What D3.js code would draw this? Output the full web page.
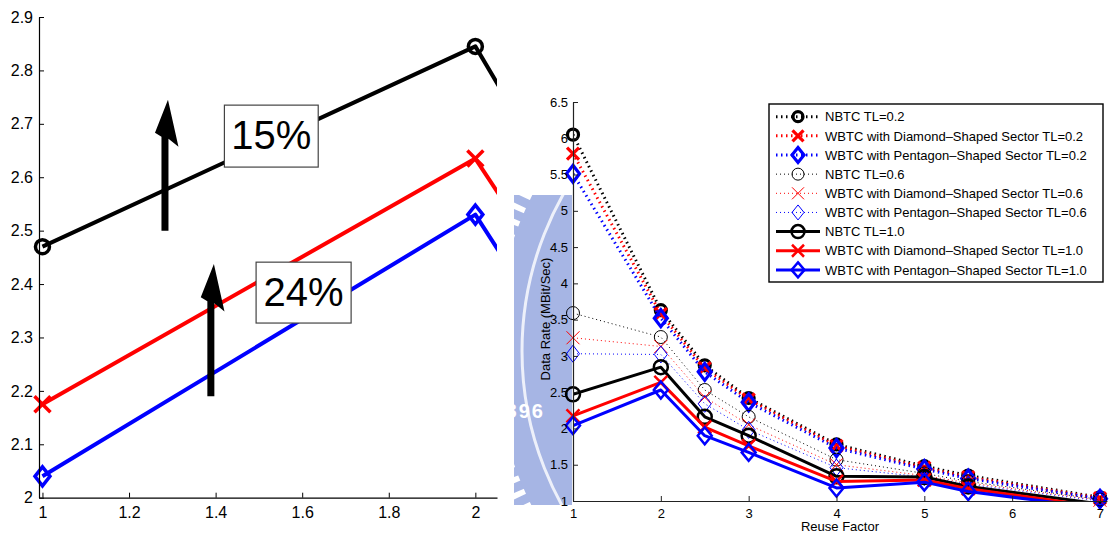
<!DOCTYPE html>
<html>
<head>
<meta charset="utf-8">
<script src="https://cdn.jsdelivr.net/npm/d3@7"></script>
<style>
  html, body { margin: 0; padding: 0; background: #fff; }
  svg { display: block; font-family: "Liberation Sans", Arial, Helvetica, sans-serif; }
</style>
</head>
<body>
<svg id="chart" width="1111" height="540"></svg>
<script>
// ---- data ----------------------------------------------------------------
const reuseFactor = [1, 2, 2.5, 3, 4, 5, 5.5, 7];

// traffic load 0.2
const nbtc02     = [6.05, 3.63, 2.87, 2.42, 1.78, 1.48, 1.35, 1.05];
const wbtcDia02  = [5.79, 3.58, 2.83, 2.40, 1.76, 1.46, 1.33, 1.04];
const wbtcPen02  = [5.51, 3.52, 2.78, 2.36, 1.73, 1.44, 1.31, 1.03];
// traffic load 0.6
const nbtc06     = [3.59, 3.26, 2.53, 2.16, 1.57, 1.38, 1.27, 1.02];
const wbtcDia06  = [3.25, 3.13, 2.43, 2.05, 1.50, 1.35, 1.25, 1.01];
const wbtcPen06  = [3.03, 3.02, 2.34, 1.98, 1.46, 1.33, 1.23, 1.00];
// traffic load 1.0
const nbtc10     = [2.47, 2.845, 2.16, 1.90, 1.34, 1.33, 1.20, 0.96];
const wbtcDia10  = [2.175, 2.635, 2.02, 1.76, 1.27, 1.29, 1.17, 0.92];
const wbtcPen10  = [2.04, 2.53, 1.90, 1.67, 1.18, 1.26, 1.13, 0.90];

const legendLabels = [
  "NBTC TL=0.2",
  "WBTC with Diamond\u2013Shaped Sector TL=0.2",
  "WBTC with Pentagon\u2013Shaped Sector TL=0.2",
  "NBTC TL=0.6",
  "WBTC with Diamond\u2013Shaped Sector TL=0.6",
  "WBTC with Pentagon\u2013Shaped Sector TL=0.6",
  "NBTC TL=1.0",
  "WBTC with Diamond\u2013Shaped Sector TL=1.0",
  "WBTC with Pentagon\u2013Shaped Sector TL=1.0"
];

const leftXTicks  = [1, 1.2, 1.4, 1.6, 1.8, 2];
const leftYTicks  = [2, 2.1, 2.2, 2.3, 2.4, 2.5, 2.6, 2.7, 2.8, 2.9];
const rightXTicks = [1, 2, 3, 4, 5, 6, 7];
const rightYTicks = [1, 1.5, 2, 2.5, 3, 3.5, 4, 4.5, 5, 5.5, 6, 6.5];
const gainLabels  = ["15%", "24%"];

// ---- series table ----------------------------------------------------------
const seriesValues = [nbtc02, wbtcDia02, wbtcPen02, nbtc06, wbtcDia06, wbtcPen06, nbtc10, wbtcDia10, wbtcPen10];
const shapes = ["circle", "x", "diamond"];
const colors = ["#000000", "#ff0000", "#0000ff"];
const loads  = ["0.2", "0.6", "1.0"];
const series = seriesValues.map((vals, i) => ({
  name: legendLabels[i],
  load: loads[Math.floor(i / 3)],
  shape: shapes[i % 3],
  color: colors[i % 3],
  points: reuseFactor.map((x, j) => ({ x, y: vals[j] }))
}));

const styles = {
  "0.2": { width: 3,   dash: "1.5,3.5", ms: 3.2, r: 5.5, xh: 6,   dw: 6.5, dh: 8.5 },
  "0.6": { width: 1,   dash: "1,3",     ms: 1,   r: 6.5, xh: 6.5, dw: 6.5, dh: 8.5 },
  "1.0": { width: 3,   dash: null,      ms: 2.5, r: 7,   xh: 6.5, dw: 7,   dh: 8.5 }
};
const zoomStyle = { width: 4, dash: null, ms: 3.5, r: 7, xh: 8, dw: 7.5, dh: 9.5 };

const svg = d3.select("#chart");
const defs = svg.append("defs");
const FONT = '"Liberation Sans", Arial, Helvetica, sans-serif';

function drawMarker(g, shape, st, color, x, y) {
  if (shape === "circle") {
    g.append("circle").attr("cx", x).attr("cy", y).attr("r", st.r)
      .attr("fill", "none").attr("stroke", color).attr("stroke-width", st.ms);
  } else if (shape === "x") {
    const s = st.xh;
    g.append("path")
      .attr("d", `M${x - s},${y - s}L${x + s},${y + s}M${x - s},${y + s}L${x + s},${y - s}`)
      .attr("fill", "none").attr("stroke", color).attr("stroke-width", st.ms);
  } else {
    g.append("path")
      .attr("d", `M${x},${y - st.dh}L${x + st.dw},${y}L${x},${y + st.dh}L${x - st.dw},${y}Z`)
      .attr("fill", "none").attr("stroke", color).attr("stroke-width", st.ms)
      .attr("stroke-linejoin", "miter");
  }
}

// ---- faint gear emblem showing in the gap between the panels ---------------
defs.append("clipPath").attr("id", "wmClip")
  .append("rect").attr("x", 514).attr("y", 195).attr("width", 58).attr("height", 310);
const wm = svg.append("g").attr("clip-path", "url(#wmClip)");
const wmC = { x: 840, y: 351 }, wmColor = "#a6b5e4";
const nTeeth = 150;
for (let i = 0; i < nTeeth; i++) {
  wm.append("rect")
    .attr("x", -4.5).attr("y", -372).attr("width", 9).attr("height", 40)
    .attr("fill", wmColor)
    .attr("transform", `translate(${wmC.x},${wmC.y}) rotate(${i * 360 / nTeeth})`);
}
wm.append("circle").attr("cx", wmC.x).attr("cy", wmC.y).attr("r", 345).attr("fill", wmColor);
wm.append("circle").attr("cx", wmC.x).attr("cy", wmC.y).attr("r", 318)
  .attr("fill", "none").attr("stroke", "#ffffff").attr("stroke-width", 3).attr("opacity", 0.8);
wm.append("text").attr("x", 545).attr("y", 418).attr("text-anchor", "end")
  .attr("font-family", FONT).attr("font-weight", "bold").attr("font-size", 20)
  .attr("letter-spacing", 2).attr("fill", "#ffffff").text("1896");

// ================= LEFT PANEL: close-up of TL=1.0 between 1 and 2 ==========
const xL = d3.scaleLinear().domain([0.992, 2.05]).range([39, 497]);
const yL = d3.scaleLinear().domain([2, 2.9]).range([497.7, 17]);

defs.append("clipPath").attr("id", "clipL")
  .append("rect").attr("x", 39).attr("y", 0).attr("width", 458).attr("height", 498);

const gL = svg.append("g");
const lineL = d3.line().x(d => xL(d.x)).y(d => yL(d.y));
const zoomSeries = series.filter(s => s.load === "1.0");

zoomSeries.forEach(s => {
  gL.append("path").attr("d", lineL(s.points)).attr("clip-path", "url(#clipL)")
    .attr("fill", "none").attr("stroke", s.color).attr("stroke-width", zoomStyle.width)
    .attr("stroke-linejoin", "round");
  const mg = gL.append("g");
  s.points.filter(p => p.x <= 2).forEach(p => drawMarker(mg, s.shape, zoomStyle, s.color, xL(p.x), yL(p.y)));
});

// axes
const axL = gL.append("g").attr("transform", `translate(0,${yL(2)})`)
  .call(d3.axisBottom(xL).tickValues(leftXTicks).tickSize(-5).tickSizeOuter(0).tickPadding(9)
    .tickFormat(d => String(d)));
const ayL = gL.append("g").attr("transform", `translate(${xL.range()[0]},0)`)
  .call(d3.axisLeft(yL).tickValues(leftYTicks).tickSize(-5).tickSizeOuter(0).tickPadding(6)
    .tickFormat(d => String(d)));
[axL, ayL].forEach(a => {
  a.selectAll("text").attr("font-family", FONT).attr("font-size", 16).attr("fill", "#000");
  a.selectAll("line").attr("stroke", "#000");
  a.select(".domain").attr("stroke", "#000").attr("stroke-width", 1.2);
});

// gain annotations (arrows + boxed percentages), positioned in panel units
const gainArrows = [
  { x: 1.283, from: 2.50, to: 2.745 },
  { x: 1.389, from: 2.19, to: 2.4376 }
];
gainArrows.forEach(a => {
  const bx = xL(a.x), by = yL(a.from), L = yL(a.from) - yL(a.to), k = L / 131;
  const pts = [[3, -131], [13.5, -84], [3.5, -92], [3.5, 0], [-3.5, 0], [-3.5, -94], [-10, -98]]
    .map(([dx, dy]) => [bx + dx * (dx === 3.5 || dx === -3.5 ? 1 : k), by + dy * k]);
  gL.append("polygon").attr("points", pts.map(p => p.join(",")).join(" ")).attr("fill", "#000");
});

const gainBoxes = [
  { x0: 1.4203, x1: 1.637, y0: 2.619, y1: 2.735 },
  { x0: 1.4935, x1: 1.713, y0: 2.327, y1: 2.441 }
];
gainBoxes.forEach((b, i) => {
  const x = xL(b.x0), w = xL(b.x1) - xL(b.x0), y = yL(b.y1), h = yL(b.y0) - yL(b.y1);
  gL.append("rect").attr("x", x).attr("y", y).attr("width", w).attr("height", h)
    .attr("fill", "#fff").attr("stroke", "#444").attr("stroke-width", 1.2);
  gL.append("text").attr("x", x + w / 2).attr("y", y + h / 2 + 13)
    .attr("text-anchor", "middle").attr("font-family", FONT).attr("font-size", 40)
    .attr("fill", "#000").text(gainLabels[i]);
});

// ================= RIGHT PANEL: data rate vs reuse factor ===================
const xR = d3.scaleLinear().domain([1, 7.08]).range([573, 1107]);
const yR = d3.scaleLinear().domain([1, 6.5]).range([501, 102]);

defs.append("clipPath").attr("id", "clipR")
  .append("rect").attr("x", 573).attr("y", 0).attr("width", 538).attr("height", 501);

const gR = svg.append("g");
const lineR = d3.line().x(d => xR(d.x)).y(d => yR(d.y));

series.forEach(s => {
  const st = styles[s.load];
  const p = gR.append("path").attr("d", lineR(s.points)).attr("clip-path", "url(#clipR)")
    .attr("fill", "none").attr("stroke", s.color).attr("stroke-width", st.width)
    .attr("stroke-linejoin", "round");
  if (st.dash) p.attr("stroke-dasharray", st.dash);
  const mg = gR.append("g");
  s.points.filter(pt => pt.y >= 1).forEach(pt => drawMarker(mg, s.shape, st, s.color, xR(pt.x), yR(pt.y)));
});

const axR = gR.append("g").attr("transform", `translate(0,${yR(1)})`)
  .call(d3.axisBottom(xR).tickValues(rightXTicks).tickSize(-5).tickSizeOuter(0).tickPadding(8)
    .tickFormat(d => String(d)));
const ayR = gR.append("g").attr("transform", `translate(${xR(1)},0)`)
  .call(d3.axisLeft(yR).tickValues(rightYTicks).tickSize(-5).tickSizeOuter(0).tickPadding(5)
    .tickFormat(d => String(d)));
[axR, ayR].forEach(a => {
  a.selectAll("text").attr("font-family", FONT).attr("font-size", 13).attr("fill", "#000");
  a.selectAll("line").attr("stroke", "#222");
  a.select(".domain").attr("stroke", "#222").attr("stroke-width", 1.2);
});

gR.append("text").attr("x", (xR(1) + xR(7.08)) / 2).attr("y", 531)
  .attr("text-anchor", "middle").attr("font-family", FONT).attr("font-size", 13)
  .attr("fill", "#000").text("Reuse Factor");
gR.append("text").attr("transform", `translate(550,319) rotate(-90)`)
  .attr("text-anchor", "middle").attr("font-family", FONT).attr("font-size", 13)
  .attr("fill", "#000").text("Data Rate (MBit/Sec)");

// legend
const lg = gR.append("g");
lg.append("rect").attr("x", 769).attr("y", 104).attr("width", 334).attr("height", 178)
  .attr("fill", "#fff").attr("stroke", "#000").attr("stroke-width", 1.4);
series.forEach((s, i) => {
  const st = styles[s.load];
  const cy = 116.7 + i * 19.15;
  const ln = lg.append("line").attr("x1", 776).attr("x2", 820).attr("y1", cy).attr("y2", cy)
    .attr("stroke", s.color).attr("stroke-width", st.width);
  if (st.dash) ln.attr("stroke-dasharray", st.dash);
  const legendStyle = Object.assign({}, st, { r: st.r - 0.5, xh: st.xh - 0.5, dw: st.dw - 0.5, dh: st.dh - 1 });
  drawMarker(lg, s.shape, legendStyle, s.color, 798, cy);
  lg.append("text").attr("x", 825).attr("y", cy).attr("dy", "0.36em")
    .attr("font-family", FONT).attr("font-size", 13).attr("fill", "#000").text(s.name);
});
</script>
</body>
</html>
